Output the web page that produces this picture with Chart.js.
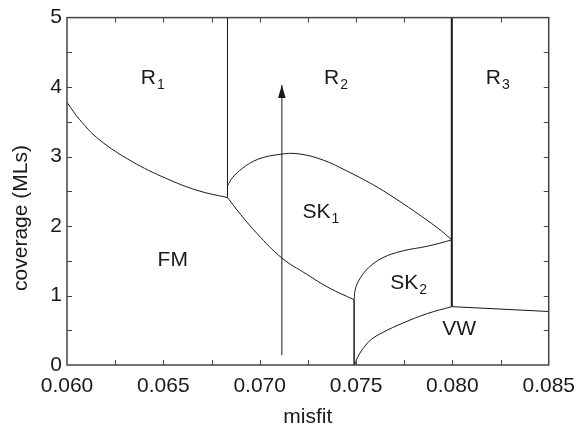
<!DOCTYPE html>
<html>
<head>
<meta charset="utf-8">
<script src="https://cdn.jsdelivr.net/npm/chart.js@4"></script>
<style>
  body { margin: 0; background: #fff; }
  canvas { display: block; }
</style>
</head>
<body>
<canvas id="phaseChart" width="584" height="430"></canvas>
<script>
// axis ticks
const misfitTicks = [0.060, 0.065, 0.070, 0.075, 0.080, 0.085];
const coverageTicks = [0, 1, 2, 3, 4, 5];

// phase boundaries (misfit, coverage in MLs)
const fmR1Misfit = [0.0600, 0.06066, 0.06169, 0.06337, 0.06511, 0.06680, 0.06833];
const fmR1Cov    = [3.78, 3.53, 3.24, 2.93, 2.69, 2.51, 2.41];

const r1r2Misfit = [0.06833, 0.06833];
const r1r2Cov    = [2.41, 5.0];

const sk1TopMisfit = [0.06833, 0.06860, 0.06910, 0.06990, 0.07100, 0.07200, 0.07329, 0.07447, 0.07585, 0.07702, 0.07840, 0.07943, 0.07997];
const sk1TopCov    = [2.58, 2.70, 2.83, 2.96, 3.03, 3.04, 2.95, 2.80, 2.60, 2.40, 2.14, 1.93, 1.80];

const fmSk1Misfit = [0.06833, 0.06900, 0.06987, 0.07115, 0.07242, 0.07360, 0.07490];
const fmSk1Cov    = [2.41, 2.17, 1.89, 1.54, 1.31, 1.11, 0.94];

const sk1Sk2Misfit = [0.07490, 0.07498, 0.07524, 0.07565, 0.07636, 0.07739, 0.07871, 0.07997];
const sk1Sk2Cov    = [0.94, 1.11, 1.26, 1.40, 1.54, 1.64, 1.71, 1.80];

const fmVwMisfit = [0.07490, 0.07490];
const fmVwCov    = [0.94, 0.0];

const r2r3Misfit = [0.07997, 0.07997];
const r2r3Cov    = [5.0, 0.84];

const sk2VwMisfit = [0.07493, 0.07510, 0.07540, 0.07580, 0.07640, 0.07740, 0.07870, 0.07997];
const sk2VwCov    = [0.00, 0.12, 0.25, 0.37, 0.47, 0.60, 0.74, 0.84];

const vwR3Misfit = [0.07997, 0.0850];
const vwR3Cov    = [0.84, 0.77];

// growth path arrow
const arrowMisfit = [0.07115, 0.07115];
const arrowCov    = [0.14, 4.03];

// region labels: text, subscript, left edge misfit, baseline coverage
const regionText   = ['R', 'R', 'R', 'SK', 'SK', 'VW', 'FM'];
const regionSub    = ['1', '2', '3', '1', '2', '', ''];
const regionMisfit = [0.06383, 0.07334, 0.08173, 0.07222, 0.07677, 0.07948, 0.06470];
const regionCov    = [4.04, 4.04, 4.04, 2.11, 1.10, 0.43, 1.43];

const INK = '#1a1a1a';
const FONT = "'Liberation Sans', Arial, sans-serif";

function toPoints(xs, ys) {
    return xs.map((x, i) => ({ x: x, y: ys[i] }));
}

function boundary(xs, ys, width, curved) {
    return {
        data: toPoints(xs, ys),
        showLine: true,
        borderColor: INK,
        borderWidth: width || 1,
        pointRadius: 0,
        tension: curved ? 0.4 : 0,
        fill: false
    };
}

// frame, inward ticks, arrowhead, region labels, y title
const decorations = {
    id: 'decorations',
    afterDatasetsDraw(chart) {
        const ctx = chart.ctx;
        const xs = chart.scales.x;
        const ys = chart.scales.y;
        const a = chart.chartArea;
        ctx.save();

        // ticks (major and minor, same length, all four sides)
        ctx.strokeStyle = '#444';
        ctx.lineWidth = 1;
        ctx.beginPath();
        for (let v = 0.0625; v < 0.085; v += 0.0025) {
            const px = Math.round(xs.getPixelForValue(v)) + 0.5;
            ctx.moveTo(px, a.bottom); ctx.lineTo(px, a.bottom - 5);
            ctx.moveTo(px, a.top); ctx.lineTo(px, a.top + 5);
        }
        for (let v = 0.5; v < 5; v += 0.5) {
            const py = Math.round(ys.getPixelForValue(v)) + 0.5;
            ctx.moveTo(a.left, py); ctx.lineTo(a.left + 5, py);
            ctx.moveTo(a.right, py); ctx.lineTo(a.right - 5, py);
        }
        ctx.stroke();

        // frame
        ctx.strokeStyle = '#444';
        ctx.lineWidth = 1.5;
        ctx.strokeRect(a.left, a.top, a.right - a.left, a.bottom - a.top);

        // arrowhead
        const tipX = xs.getPixelForValue(arrowMisfit[1]);
        const tipY = ys.getPixelForValue(arrowCov[1]);
        ctx.fillStyle = INK;
        ctx.beginPath();
        ctx.moveTo(tipX, tipY);
        ctx.lineTo(tipX - 3.8, tipY + 13);
        ctx.lineTo(tipX + 3.8, tipY + 13);
        ctx.closePath();
        ctx.fill();

        // region labels
        ctx.fillStyle = INK;
        ctx.textBaseline = 'alphabetic';
        ctx.textAlign = 'left';
        regionText.forEach((t, i) => {
            const px = xs.getPixelForValue(regionMisfit[i]);
            const py = ys.getPixelForValue(regionCov[i]);
            ctx.font = '21px ' + FONT;
            ctx.fillText(t, px, py);
            if (regionSub[i]) {
                const w = ctx.measureText(t).width;
                ctx.font = '14px ' + FONT;
                ctx.fillText(regionSub[i], px + w + 1, py + 5);
            }
        });

        // y axis title
        ctx.font = '21px ' + FONT;
        ctx.textAlign = 'center';
        ctx.textBaseline = 'middle';
        ctx.translate(21, 218);
        ctx.rotate(-Math.PI / 2);
        ctx.fillText('coverage (MLs)', 0, 0);
        ctx.restore();
    }
};

new Chart(document.getElementById('phaseChart'), {
    type: 'scatter',
    data: {
        datasets: [
            boundary(fmR1Misfit, fmR1Cov, 1, true),
            boundary(r1r2Misfit, r1r2Cov),
            boundary(sk1TopMisfit, sk1TopCov, 1, true),
            boundary(fmSk1Misfit, fmSk1Cov, 1, true),
            boundary(sk1Sk2Misfit, sk1Sk2Cov, 1, true),
            boundary(fmVwMisfit, fmVwCov, 1.5),
            boundary(r2r3Misfit, r2r3Cov, 2),
            boundary(sk2VwMisfit, sk2VwCov, 1, true),
            boundary(vwR3Misfit, vwR3Cov),
            boundary(arrowMisfit, arrowCov)
        ]
    },
    options: {
        responsive: false,
        animation: false,
        layout: { padding: { top: 15, right: 28, left: 0, bottom: 0 } },
        plugins: {
            legend: { display: false },
            tooltip: { enabled: false }
        },
        scales: {
            x: {
                type: 'linear',
                min: 0.060,
                max: 0.085,
                grid: { display: false, drawTicks: false },
                border: { display: false },
                afterBuildTicks: s => { s.ticks = misfitTicks.map(v => ({ value: v })); },
                afterFit: s => { s.height = 65; },
                ticks: {
                    color: INK,
                    padding: 9,
                    maxRotation: 0,
                    font: { family: FONT, size: 21 },
                    callback: v => v.toFixed(3)
                },
                title: {
                    display: true,
                    text: 'misfit',
                    color: INK,
                    font: { family: FONT, size: 21 },
                    padding: { top: 0, bottom: 0 }
                }
            },
            y: {
                type: 'linear',
                min: 0,
                max: 5,
                grid: { display: false, drawTicks: false },
                border: { display: false },
                afterBuildTicks: s => { s.ticks = coverageTicks.map(v => ({ value: v })); },
                afterFit: s => { s.width = 67; },
                ticks: {
                    color: INK,
                    padding: 5,
                    font: { family: FONT, size: 21 }
                }
            }
        }
    },
    plugins: [decorations]
});
</script>
</body>
</html>
